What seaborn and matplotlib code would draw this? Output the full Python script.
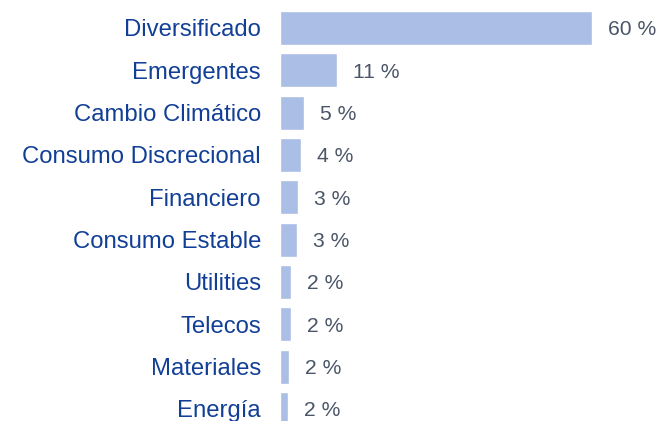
import matplotlib
matplotlib.use("Agg")
import matplotlib.pyplot as plt
import seaborn as sns
import pandas as pd

categories = [
    "Diversificado",
    "Emergentes",
    "Cambio Climático",
    "Consumo Discrecional",
    "Financiero",
    "Consumo Estable",
    "Utilities",
    "Telecos",
    "Materiales",
    "Energía",
]
weights = [60.0, 10.96, 4.6, 4.0, 3.45, 3.35, 2.1, 2.1, 1.7, 1.6]

df = pd.DataFrame({"sector": categories, "peso": weights})

sns.set_theme(style="white")
plt.rcParams["font.family"] = ["Liberation Sans", "DejaVu Sans"]

fig = plt.figure(figsize=(6.58, 4.21), dpi=100)
ax = fig.add_axes([280 / 658, 0, 378 / 658, 1])

sns.barplot(data=df, x="peso", y="sector", color="#abbee5", saturation=1,
            width=0.8, ax=ax)

ax.set_xlim(0, 378 / 5.2)
ax.set_ylim(9.284, -0.661)

for c in ax.containers:
    anns = ax.bar_label(c, labels=[f"{v:.0f} %" for v in weights], padding=11.5,
                        color="#4a5568", fontsize=15.2)
    for a in anns:
        a.set_va("center_baseline")

ax.set_xlabel("")
ax.set_ylabel("")
ax.set_xticks([])
ax.tick_params(axis="y", length=0, pad=13.7, labelsize=17.2, labelcolor="#123f96")
for s in ax.spines.values():
    s.set_visible(False)

fig.savefig("out.png", dpi=100)
